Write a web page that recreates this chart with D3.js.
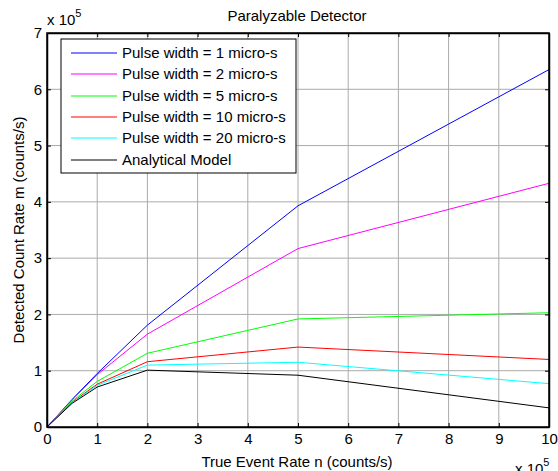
<!DOCTYPE html>
<html>
<head>
<meta charset="utf-8">
<script src="https://cdn.jsdelivr.net/npm/d3@7"></script>
<style>
  body { margin: 0; background: #fff; }
  svg { font-family: "Liberation Sans", Arial, sans-serif; }
</style>
</head>
<body>
<svg id="chart" width="558" height="471"></svg>
<script>
// true event rate n (x 10^5)
const rates = [0, 0.5, 1, 2, 5, 10];

// detected count rate m (x 10^5), one array per curve
const width1 = [0, 0.49, 0.95, 1.81, 3.93, 6.35];
const width2 = [0, 0.48, 0.93, 1.65, 3.17, 4.33];
const width5 = [0, 0.46, 0.81, 1.31, 1.92, 2.03];
const width10 = [0, 0.44, 0.76, 1.16, 1.42, 1.20];
const width20 = [0, 0.43, 0.74, 1.10, 1.15, 0.77];
const analytic = [0, 0.42, 0.71, 1.01, 0.92, 0.34];

const seriesNames = [
  "Pulse width = 1 micro-s",
  "Pulse width = 2 micro-s",
  "Pulse width = 5 micro-s",
  "Pulse width = 10 micro-s",
  "Pulse width = 20 micro-s",
  "Analytical Model"
];
const seriesColors = ["#0000ff", "#ff00ff", "#00ff00", "#ff0000", "#00ffff", "#000000"];

const xTicks = d3.range(0, 11, 1);
const yTicks = d3.range(0, 8, 1);

const series = [width1, width2, width5, width10, width20, analytic].map((vals, i) => ({
  name: seriesNames[i],
  color: seriesColors[i],
  points: vals.map((v, j) => [rates[j], v])
}));

const svg = d3.select("#chart");
const margin = {left: 47, right: 9, top: 33, bottom: 44};
const W = 558, H = 471;

const x = d3.scaleLinear().domain([0, 10]).range([margin.left, W - margin.right]);
const y = d3.scaleLinear().domain([0, 7]).range([H - margin.bottom, margin.top]);

// grid
const grid = svg.append("g").attr("class", "grid");
grid.selectAll(".gx").data(xTicks.slice(1, -1)).join("line")
  .attr("x1", d => x(d)).attr("x2", d => x(d))
  .attr("y1", y(0)).attr("y2", y(7))
  .attr("stroke", "#aaaaaa").attr("stroke-width", 1);
grid.selectAll(".gy").data(yTicks.slice(1, -1)).join("line")
  .attr("y1", d => y(d)).attr("y2", d => y(d))
  .attr("x1", x(0)).attr("x2", x(10))
  .attr("stroke", "#aaaaaa").attr("stroke-width", 1);

// curves
const line = d3.line().x(d => x(d[0])).y(d => y(d[1]));
svg.append("g").selectAll("path").data(series).join("path")
  .attr("d", d => line(d.points))
  .attr("fill", "none")
  .attr("stroke", d => d.color)
  .attr("stroke-width", 1);

// axes, ticks pointing inward on all four sides
const tk = 4;
svg.append("g").attr("transform", `translate(0,${y(0)})`)
  .call(d3.axisBottom(x).tickValues(xTicks).tickSizeInner(-tk).tickSizeOuter(0).tickPadding(6))
  .call(g => g.selectAll("text").attr("font-size", 15));
svg.append("g").attr("transform", `translate(0,${y(7)})`)
  .call(d3.axisTop(x).tickValues(xTicks).tickSizeInner(-tk).tickSizeOuter(0).tickFormat(""));
svg.append("g").attr("transform", `translate(${x(0)},0)`)
  .call(d3.axisLeft(y).tickValues(yTicks).tickFormat(d3.format("d")).tickSizeInner(-tk).tickSizeOuter(0).tickPadding(5))
  .call(g => g.selectAll("text").attr("font-size", 15));
svg.append("g").attr("transform", `translate(${x(10)},0)`)
  .call(d3.axisRight(y).tickValues(yTicks).tickSizeInner(-tk).tickSizeOuter(0).tickFormat(""));
svg.selectAll(".domain").attr("stroke", "#000").attr("stroke-width", 1.5);
svg.selectAll(".tick line").attr("stroke", "#000");
svg.selectAll(".tick text").attr("fill", "#000");

// box
svg.append("rect")
  .attr("x", x(0)).attr("y", y(7))
  .attr("width", x(10) - x(0)).attr("height", y(0) - y(7))
  .attr("fill", "none").attr("stroke", "#000").attr("stroke-width", 1.5);

// title and labels
svg.append("text").attr("x", 297).attr("y", 21).attr("text-anchor", "middle")
  .attr("font-size", 15).text("Paralyzable Detector");
svg.append("text").attr("x", 297).attr("y", 467).attr("text-anchor", "middle")
  .attr("font-size", 15).text("True Event Rate n (counts/s)");
svg.append("text").attr("transform", "translate(24,230) rotate(-90)").attr("text-anchor", "middle")
  .attr("font-size", 15).text("Detected Count Rate m (counts/s)");

// x 10^5 multipliers
function multiplier(px, py) {
  const t = svg.append("text").attr("x", px).attr("y", py).attr("font-size", 15);
  t.append("tspan").text("x 10");
  t.append("tspan").attr("dy", -8).attr("font-size", 11).text("5");
}
multiplier(47, 25);
multiplier(515, 474);

// legend
const lg = svg.append("g").attr("transform", "translate(61,39)");
lg.append("rect").attr("width", 235).attr("height", 134)
  .attr("fill", "#fff").attr("stroke", "#000").attr("stroke-width", 1);
const rows = lg.selectAll("g").data(series).join("g")
  .attr("transform", (d, i) => `translate(0,${14 + Math.round(i * 21.35)})`);
rows.append("line").attr("x1", 10).attr("x2", 56)
  .attr("stroke", d => d.color).attr("stroke-width", 1);
rows.append("text").attr("x", 61).attr("dy", "0.35em")
  .attr("font-size", 15).text(d => d.name);
</script>
</body>
</html>
